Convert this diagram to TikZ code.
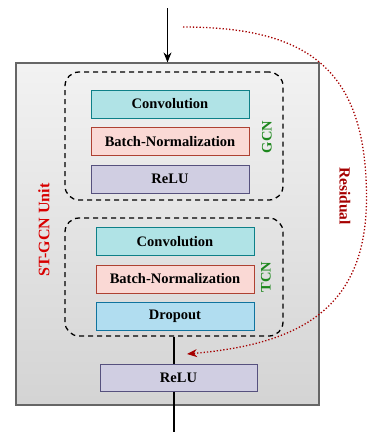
\documentclass[tikz,border=0pt]{standalone}
\usepackage{fontspec}
\setmainfont{Liberation Serif}
\usetikzlibrary{arrows.meta,positioning,calc}
\definecolor{cf}{HTML}{B0E3E6}
\definecolor{cd}{HTML}{0E8088}
\definecolor{bf}{HTML}{FAD9D5}
\definecolor{bd}{HTML}{AE4132}
\definecolor{rf}{HTML}{D0CEE2}
\definecolor{rd}{HTML}{56517E}
\definecolor{df}{HTML}{B1DDF0}
\definecolor{dd}{HTML}{10739E}
\definecolor{ug}{HTML}{666666}
\definecolor{ured}{HTML}{D80000}
\definecolor{resred}{HTML}{A50000}
\definecolor{grn}{HTML}{1E881E}
\tikzstyle{layer}=[rectangle,line width=1pt,minimum width=158pt,minimum height=28pt,inner sep=0pt,font=\fontsize{14.5}{17}\selectfont\bfseries]
\tikzstyle{group}=[rectangle,draw,line width=1.3pt,dash pattern=on 5pt off 4pt,rounded corners=14pt,minimum width=218pt,inner sep=0pt]
\tikzstyle{side}=[font=\fontsize{14.5}{17}\selectfont\bfseries]

\begin{document}
\begin{tikzpicture}[x=1pt,y=-1pt,>={Stealth[length=10pt,width=8pt]},node distance=8.5pt]
	\useasboundingbox (0,0) rectangle (368,432);
	\node[draw=ug,line width=1.2pt,top color=black!5,bottom color=black!17,minimum width=303pt,minimum height=342pt,inner sep=0pt] (unit) at (167.5,234) {};
	\node[group,minimum height=128pt] (gcn) at (174,136) {};
	\node[group,minimum height=118pt] (tcn) at (174,277) {};
	% gcn part
	\node[layer,draw=cd,fill=cf] (gconv) at (170,104) {Convolution};
	\node[layer,draw=bd,fill=bf] (gbn) [below=of gconv] {Batch-Normalization};
	\node[layer,draw=rd,fill=rf] (grelu) [below=of gbn] {ReLU};
	% tcn part
	\node[layer,draw=cd,fill=cf] (tconv) at (175,241.5) {Convolution};
	\node[layer,draw=bd,fill=bf] (tbn) [below=of tconv] {Batch-Normalization};
	\node[layer,draw=dd,fill=df] (tdrop) [below=of tbn] {Dropout};
	\node[layer,draw=rd,fill=rf,minimum width=157pt,minimum height=27pt] (relu) at (178.5,377.5) {ReLU};
	% labels
	\node[side,text=grn,rotate=90] (lgcn) at (267,137) {GCN};
	\node[side,text=grn,rotate=90] (ltcn) at (266,277) {TCN};
	\node[side,text=ured,rotate=90,font=\fontsize{16}{19}\selectfont\bfseries] (lunit) at (44,230) {ST-GCN Unit};
	\node[side,text=resred,rotate=-90,font=\fontsize{15.5}{18}\selectfont\bfseries] (lres) at (345,196) {Residual};
	\coordinate (in) at (167.5,8);
	\coordinate (out) at (174,432);
	\coordinate (rstart) at (183,27);
	\coordinate (rmid) at (366.5,198);
	\coordinate (rend) at (187,354);
	\draw[->,line width=1.3pt] (in) -- (unit.north);
	\draw[line width=1.3pt] (tcn.south) -- (tcn.south |- relu.north);
	\draw[line width=1.3pt] (tcn.south |- relu.south) -- (out);
	\draw[->,resred,line width=1.3pt,dotted]
		(rstart) to[out=0,in=90,looseness=1.3] (rmid)
		to[out=-90,in=5,looseness=1.2] (rend);
\end{tikzpicture}
\end{document}
